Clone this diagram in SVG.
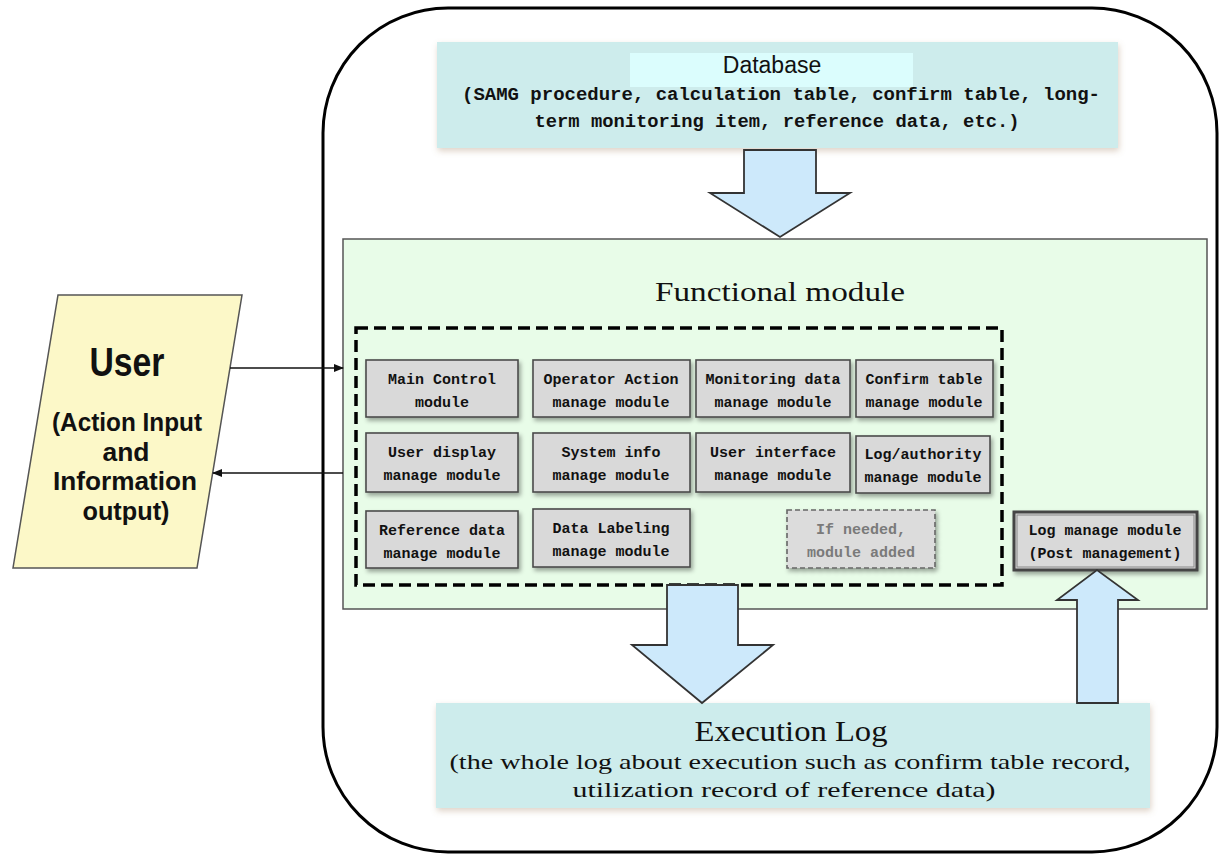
<svg xmlns="http://www.w3.org/2000/svg" width="1220" height="855" viewBox="0 0 1220 855">
<style>
.mod{fill:#d9d9d9;stroke:#4a4a4a;stroke-width:1.6}
.mt{font-family:"Liberation Mono",monospace;font-weight:bold;font-size:15px;fill:#111;text-anchor:middle}
.big{fill:#cdecec}
.arr{fill:#cde9fb;stroke:#333;stroke-width:1.8;stroke-linejoin:miter}
.lt{font-family:"Liberation Serif",serif;fill:#111;text-anchor:middle}
</style>
<defs>
<filter id="sh" x="-10%" y="-10%" width="130%" height="140%">
<feDropShadow dx="2" dy="3" stdDeviation="2" flood-color="#000" flood-opacity="0.35"/>
</filter>
<filter id="sh2" x="-5%" y="-10%" width="110%" height="130%">
<feDropShadow dx="1" dy="3" stdDeviation="3" flood-color="#a08060" flood-opacity="0.35"/>
</filter>
<marker id="ah" markerWidth="10" markerHeight="10" refX="9" refY="5" orient="auto" markerUnits="userSpaceOnUse">
<path d="M0,1 L10,5 L0,9 z" fill="#111"/>
</marker>
</defs>
<rect width="1220" height="855" fill="#ffffff"/>

<g id="outer">
<rect x="323" y="8" width="894" height="844" rx="125" ry="125" fill="#fff" stroke="#000" stroke-width="3"/>
</g>

<g id="database">
<rect class="big" x="437" y="42" width="681" height="106" filter="url(#sh2)"/>
<rect x="630" y="53" width="283" height="34" fill="#dbfdfd"/>
<text x="772" y="73" font-family="Liberation Sans,Arial,sans-serif" font-size="23" fill="#111" text-anchor="middle">Database</text>
<text x="781" y="100" font-family="Liberation Mono,monospace" font-weight="bold" font-size="19" fill="#111" text-anchor="middle" textLength="638" lengthAdjust="spacingAndGlyphs">(SAMG procedure, calculation table, confirm table, long-</text>
<text x="777" y="127" font-family="Liberation Mono,monospace" font-weight="bold" font-size="19" fill="#111" text-anchor="middle" textLength="485" lengthAdjust="spacingAndGlyphs">term monitoring item, reference data, etc.)</text>
</g>

<g id="functional">
<rect x="343" y="239" width="864" height="370" fill="#e8fce8" stroke="#555" stroke-width="1.5"/>
<text x="780" y="301" font-family="Liberation Serif,serif" font-size="28" fill="#111" text-anchor="middle" textLength="250" lengthAdjust="spacingAndGlyphs">Functional module</text>
<rect x="356" y="328" width="646" height="257" fill="none" stroke="#000" stroke-width="3.5" stroke-dasharray="12,6"/>
</g>

<g id="m1"><rect class="mod" x="366" y="360" width="152" height="57" filter="url(#sh)"/><text class="mt" x="442" y="384">Main Control</text><text class="mt" x="442" y="407">module</text></g>
<g id="m2"><rect class="mod" x="533" y="360" width="157" height="57" filter="url(#sh)"/><text class="mt" x="611" y="384">Operator Action</text><text class="mt" x="611" y="407">manage module</text></g>
<g id="m3"><rect class="mod" x="696" y="360" width="154" height="57" filter="url(#sh)"/><text class="mt" x="773" y="384">Monitoring data</text><text class="mt" x="773" y="407">manage module</text></g>
<g id="m4"><rect class="mod" x="856" y="360" width="137" height="57" filter="url(#sh)"/><text class="mt" x="924" y="384">Confirm table</text><text class="mt" x="924" y="407">manage module</text></g>

<g id="m5"><rect class="mod" x="366" y="433" width="152" height="59" filter="url(#sh)"/><text class="mt" x="442" y="457">User display</text><text class="mt" x="442" y="480">manage module</text></g>
<g id="m6"><rect class="mod" x="533" y="433" width="157" height="59" filter="url(#sh)"/><text class="mt" x="611" y="457">System info</text><text class="mt" x="611" y="480">manage module</text></g>
<g id="m7"><rect class="mod" x="696" y="433" width="154" height="59" filter="url(#sh)"/><text class="mt" x="773" y="457">User interface</text><text class="mt" x="773" y="480">manage module</text></g>
<g id="m8"><rect class="mod" x="856" y="436" width="134" height="57" filter="url(#sh)"/><text class="mt" x="923" y="459">Log/authority</text><text class="mt" x="923" y="482">manage module</text></g>

<g id="m9"><rect class="mod" x="366" y="511" width="152" height="57" filter="url(#sh)"/><text class="mt" x="442" y="535">Reference data</text><text class="mt" x="442" y="558">manage module</text></g>
<g id="m10"><rect class="mod" x="533" y="509" width="157" height="58" filter="url(#sh)"/><text class="mt" x="611" y="533">Data Labeling</text><text class="mt" x="611" y="556">manage module</text></g>
<g id="m11"><rect x="787" y="510" width="148" height="58" fill="#dcdcdc" stroke="#666" stroke-width="1.6" stroke-dasharray="5,3" filter="url(#sh)"/><text class="mt" x="861" y="534" style="fill:#7a7a7a">If needed,</text><text class="mt" x="861" y="557" style="fill:#7a7a7a">module added</text></g>

<g id="logmod"><rect x="1014" y="512" width="183" height="58" fill="#d9d9d9" stroke="#444" stroke-width="3" filter="url(#sh)"/><rect x="1017" y="515" width="177" height="52" fill="none" stroke="#888" stroke-width="1"/><text class="mt" x="1105" y="535">Log manage module</text><text class="mt" x="1105" y="558">(Post management)</text></g>

<g id="execlog">
<rect class="big" x="436" y="703" width="714" height="105" filter="url(#sh2)"/>
<text class="lt" x="791" y="741" font-size="29" textLength="193" lengthAdjust="spacingAndGlyphs">Execution Log</text>
<text class="lt" x="790" y="769" font-size="22" textLength="681" lengthAdjust="spacingAndGlyphs">(the whole log about execution such as confirm table record,</text>
<text class="lt" x="784" y="797" font-size="22" textLength="423" lengthAdjust="spacingAndGlyphs">utilization record of reference data)</text>
</g>

<g id="user">
<polygon points="58,295 242,295 197,568 13,568" fill="#fcf8c8" stroke="#555" stroke-width="1.5"/>
<text x="127" y="376" font-family="Liberation Sans,Arial,sans-serif" font-weight="bold" font-size="40" fill="#111" text-anchor="middle" textLength="75" lengthAdjust="spacingAndGlyphs">User</text>
<text x="127" y="431" font-family="Liberation Sans,Arial,sans-serif" font-weight="bold" font-size="25" fill="#111" text-anchor="middle" textLength="150" lengthAdjust="spacingAndGlyphs">(Action Input</text>
<text x="126" y="461" font-family="Liberation Sans,Arial,sans-serif" font-weight="bold" font-size="25" fill="#111" text-anchor="middle" textLength="47" lengthAdjust="spacingAndGlyphs">and</text>
<text x="125" y="490" font-family="Liberation Sans,Arial,sans-serif" font-weight="bold" font-size="25" fill="#111" text-anchor="middle" textLength="144" lengthAdjust="spacingAndGlyphs">Information</text>
<text x="126" y="520" font-family="Liberation Sans,Arial,sans-serif" font-weight="bold" font-size="25" fill="#111" text-anchor="middle" textLength="87" lengthAdjust="spacingAndGlyphs">output)</text>
</g>

<g id="connectors">
<line x1="230" y1="368" x2="343" y2="368" stroke="#111" stroke-width="1.3" marker-end="url(#ah)"/>
<line x1="343" y1="473" x2="213" y2="473" stroke="#111" stroke-width="1.3" marker-end="url(#ah)"/>
<polygon class="arr" points="744,150 816,150 816,193 850,193 780,237 710,193 744,193"/>
<polygon class="arr" points="667,585 738,585 738,645 773,645 702,703 632,645 667,645"/>
<polygon class="arr" points="1077,703 1118,703 1118,600 1138,600 1097,570 1057,600 1077,600"/>
</g>
</svg>
